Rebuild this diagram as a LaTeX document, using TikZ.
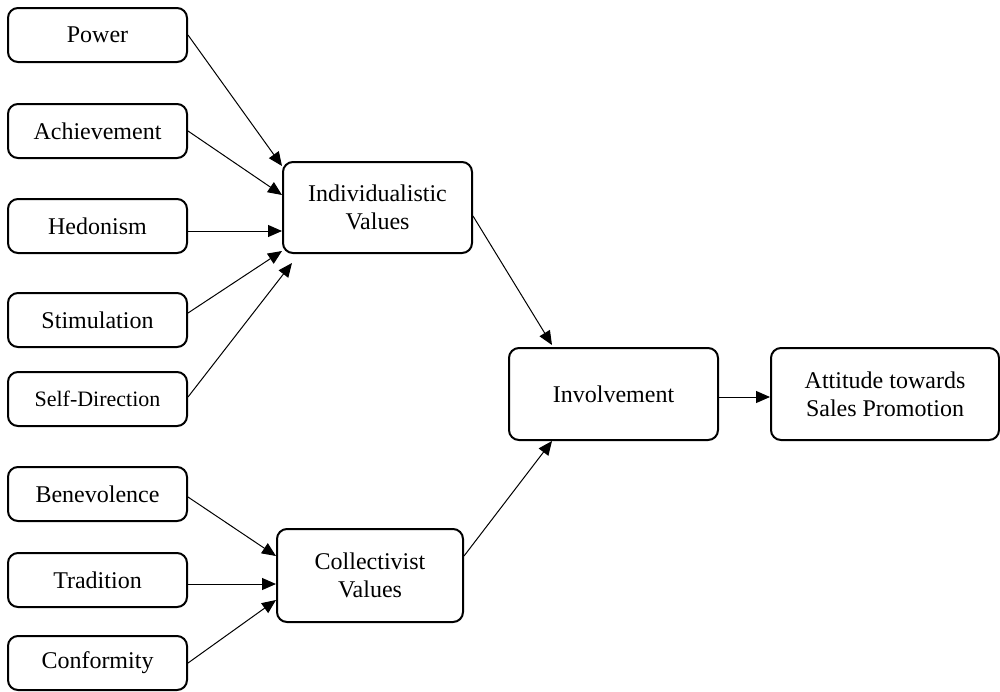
\documentclass[tikz,border=0pt]{standalone}
\usepackage{fontspec}
\setmainfont{Liberation Serif}
\usetikzlibrary{arrows.meta,calc}
\begin{document}
\begin{tikzpicture}[x=0.5pt,y=-0.5pt,
  box/.style={draw,line width=1pt,rounded corners=5pt,align=center,inner sep=0pt,
    font=\fontsize{12}{14}\selectfont},
  leftbox/.style={box,minimum width=89.5pt,minimum height=27pt},
  conn/.style={line width=0.5pt,-{Triangle[length=7pt,width=6pt]}}]
\useasboundingbox (0,0) rectangle (1000,691);
% left boxes
\node[leftbox] (pow) at (97.5,35) {Power};
\node[leftbox] (ach) at (97.5,131) {Achievement};
\node[leftbox] (hed) at (97.5,226) {Hedonism};
\node[leftbox] (sti) at (97.5,320) {Stimulation};
\node[leftbox,font=\fontsize{11}{13}\selectfont] (sel) at (97.5,399) {Self-Direction};
\node[leftbox] (ben) at (97.5,494) {Benevolence};
\node[leftbox] (tra) at (97.5,580) {Tradition};
\node[leftbox] (con) at (97.5,663) {Conformity};
% middle boxes
\node[box,minimum width=94.5pt,minimum height=45.5pt] (ind) at (377.5,207.5) {Individualistic\\Values};
\node[box,minimum width=93pt,minimum height=46.5pt] (col) at (370,575.5) {Collectivist\\Values};
\node[box,minimum width=104.5pt,minimum height=46pt] (inv) at (613.5,394) {Involvement};
\node[box,minimum width=114pt,minimum height=46pt] (att) at (885,394) {Attitude towards\\Sales Promotion};
% connectors
\draw[conn] (pow.east) -- ($(ind.north west)+(0,5)$);
\draw[conn] (ach.east) -- ($(ind.north west)+(0,34)$);
\coordinate (hs) at ($(hed.east)+(0,5)$);
\draw[conn] (hs) -- (ind.west |- hs);
\draw[conn] ($(sti.east)+(0,-7)$) -- ($(ind.south west)+(0,-3)$);
\coordinate (selend) at ($(ind.south west)+(10,9)$);
\draw[conn] ($(sel.east)+(0,-2)$) -- (selend);
\draw[conn] ($(ind.north east)+(0,55)$) -- ($(inv.north west)+(44,-2)$);
\draw[conn] ($(ben.east)+(0,3)$) -- ($(col.north west)+(0,28)$);
\coordinate (ts) at ($(tra.east)+(0,4)$);
\draw[conn] (ts) -- (col.west |- ts);
\draw[conn] (con.east) -- ($(col.north west)+(0,72)$);
\draw[conn] ($(col.north east)+(0,28)$) -- ($(inv.south west)+(44,0)$);
\coordinate (is) at ($(inv.east)+(0,3)$);
\draw[conn] (is) -- (att.west |- is);
\end{tikzpicture}
\end{document}
